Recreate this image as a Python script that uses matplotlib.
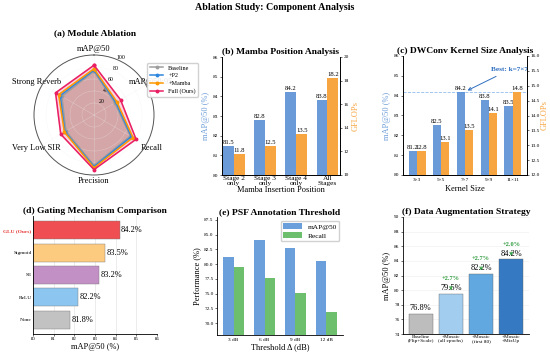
import numpy as np
import matplotlib
matplotlib.use('Agg')
import matplotlib.pyplot as plt

plt.rcParams['font.family'] = ['Liberation Serif', 'DejaVu Serif']
plt.rcParams['axes.linewidth'] = 0.6

W, H = 550, 353

# (a) radar data
radar_labels = ['mAP@50', 'mAP@50:95', 'Recall', 'Precision', 'Very Low SIR', 'Strong Reverb']
radar_names = ['Baseline', '+P2', '+Mamba', 'Full (Ours)']
radar_baseline = [73, 40, 70, 84, 54, 62]
radar_p2 = [75, 42, 72, 86, 56, 65]
radar_mamba = [77, 44, 75, 88, 57, 68]
radar_full = [83, 51, 81, 91, 64, 74]
radar_colors = ['#9E9E9E', '#2E86DE', '#FF9800', '#E91E63']

# (b) mamba position
pos_labels = ['Stage 2\nonly', 'Stage 3\nonly', 'Stage 4\nonly', 'All\nStages']
pos_map = [81.5, 82.8, 84.2, 83.8]
pos_gflops = [11.8, 12.5, 13.5, 18.2]

# (c) kernel size
kernel_labels = ['3×3', '5×5', '7×7', '9×9', '11×11']
kernel_map = [81.2, 82.5, 84.2, 83.8, 83.5]
kernel_gflops = [12.8, 13.1, 13.5, 14.1, 14.8]

# (d) gating
gate_labels = ['GLU (Ours)', 'Sigmoid', 'SE', 'ReLU', 'None']
gate_vals = [84.2, 83.5, 83.2, 82.2, 81.8]
gate_colors = ['#EF4F52', '#FDCB80', '#C390C6', '#8CC6F0', '#C2C2C2']

# (e) PSF threshold
thr_labels = ['3 dB', '6 dB', '9 dB', '12 dB']
thr_map = [81.2, 84.1, 82.7, 80.5]
thr_recall = [79.5, 77.7, 75.2, 71.9]

# (f) data augmentation
aug_labels = ['Baseline\n(Flip+Scale)', '+Mosaic\n(all epochs)', '+Mosaic\n(first 80)', '+Mosaic\n+MixUp']
aug_vals = [76.8, 79.5, 82.2, 84.2]
aug_colors = ['#BDBDBD', '#A3CDEE', '#62A8E0', '#3479C2']

BLUE = '#6A9BD8'
ORANGE = '#F7A540'
TITLE = 6.8
LABEL = 6.0
TICK = 3.8


def box(l, t, r, b):
    return [l / W, 1 - b / H, (r - l) / W, (b - t) / H]


fig = plt.figure(figsize=(W / 100, H / 100), dpi=100)
fig.text(0.5, 1 - 8 / H, 'Ablation Study: Component Analysis', ha='center', va='center',
         fontsize=7.2, fontweight='bold')

# ---------- (a) radar ----------
ax = fig.add_axes(box(34, 55, 154, 175), polar=True)
angles = np.linspace(0, 2 * np.pi, len(radar_labels), endpoint=False)
ang = np.concatenate([angles, angles[:1]])
ax.set_theta_offset(np.pi / 2)
ax.set_theta_direction(-1)
for vals, name, c in zip([radar_baseline, radar_p2, radar_mamba, radar_full], radar_names, radar_colors):
    v = np.concatenate([vals, vals[:1]])
    ax.plot(ang, v, color=c, lw=1.1, marker='o', ms=1.8, label=name)
    ax.fill(ang, v, color=c, alpha=0.2)
ax.set_ylim(0, 100)
ax.set_yticks([20, 40, 60, 80, 100])
ax.set_yticklabels(['20', '40', '60', '80', '100'], fontsize=4.2)
ax.set_xticks(angles)
ax.set_xticklabels(radar_labels, fontsize=6)
ax.tick_params(axis='x', pad=-6)
ax.grid(color='#eeeeee', lw=0.4, alpha=0.4)
ax.spines['polar'].set_color('#555555')
ax.spines['polar'].set_linewidth(0.7)
ax.legend(loc='upper left', bbox_to_anchor=(0.92, 0.96), fontsize=4.4, handlelength=2.2,
          borderpad=0.4, labelspacing=0.4, framealpha=0.9, edgecolor='#cccccc', fancybox=True)
fig.text(95 / W, 1 - 33 / H, '(a) Module Ablation', ha='center', va='center', fontsize=TITLE,
         fontweight='bold')

# ---------- (b) mamba position ----------
ax = fig.add_axes(box(222, 57, 340, 175))
x = np.arange(len(pos_labels))
w = 0.35
ax.bar(x - w / 2, pos_map, w, color=BLUE)
ax.set_ylim(80, 86)
ax.set_xlim(-0.37, 3.4)
ax2 = ax.twinx()
ax2.bar(x + w / 2, pos_gflops, w, color=ORANGE)
ax2.set_ylim(10, 20)
for xi, v in zip(x, pos_map):
    ax.text(xi - w / 2, v + 0.05, f'{v}', ha='center', va='bottom', fontsize=4.8)
for xi, v in zip(x, pos_gflops):
    ax2.text(xi + w / 2, v + 0.08, f'{v}', ha='center', va='bottom', fontsize=4.8)
ax.set_xticks(x)
ax.set_xticklabels(pos_labels, fontsize=5.3, linespacing=0.9)
ax.tick_params(axis='x', length=0, pad=1)
ax.tick_params(axis='y', labelsize=TICK, length=1.5, pad=1, width=0.4)
ax2.tick_params(axis='y', labelsize=TICK, length=1.5, pad=1, width=0.4)
ax.set_ylabel('mAP@50 (%)', color=BLUE, fontsize=LABEL, labelpad=2)
ax2.set_ylabel('GFLOPs', color=ORANGE, fontsize=LABEL, labelpad=2)
ax.set_xlabel('Mamba Insertion Position', fontsize=LABEL, labelpad=0)
ax.set_title('(b) Mamba Position Analysis', fontsize=TITLE, fontweight='bold', pad=2)
for a in (ax, ax2):
    a.spines['top'].set_visible(False)

# ---------- (c) kernel size ----------
ax = fig.add_axes(box(403, 56, 527, 175))
x = np.arange(len(kernel_labels))
ax.bar(x - w / 2, kernel_map, w, color=BLUE)
ax.set_ylim(80, 86)
ax2 = ax.twinx()
ax2.bar(x + w / 2, kernel_gflops, w, color=ORANGE)
ax2.set_ylim(12, 16)
ax2.set_yticks(np.arange(12, 16.01, 0.5))
ax.set_xlim(-0.59, 4.59)
for xi, v in zip(x, kernel_map):
    ax.text(xi - w / 2, v + 0.05, f'{v}', ha='center', va='bottom', fontsize=4.8)
for xi, v in zip(x, kernel_gflops):
    ax2.text(xi + w / 2, v + 0.03, f'{v}', ha='center', va='bottom', fontsize=4.8)
ax.axhline(kernel_map[2], color='#4A90E2', ls='--', lw=0.6, alpha=0.6)
ax.annotate('Best: k=7×7', xy=(2, kernel_map[2]), xytext=(3.85, 85.3), ha='center', va='center',
            fontsize=5.2, fontweight='bold', color='#2F6FC0',
            arrowprops=dict(arrowstyle='->', color='#2F6FC0', lw=0.7))
ax.set_xticks(x)
ax.set_xticklabels(kernel_labels, fontsize=TICK)
ax.tick_params(axis='x', length=0, pad=2)
ax.tick_params(axis='y', labelsize=TICK, length=1.5, pad=1, width=0.4)
ax2.tick_params(axis='y', labelsize=TICK, length=1.5, pad=1, width=0.4)
ax.set_ylabel('mAP@50 (%)', color=BLUE, fontsize=LABEL, labelpad=2)
ax2.set_ylabel('GFLOPs', color=ORANGE, fontsize=LABEL, labelpad=1)
ax.set_xlabel('Kernel Size', fontsize=LABEL, labelpad=2)
ax.set_title('(c) DWConv Kernel Size Analysis', fontsize=TITLE, fontweight='bold', pad=2)
for a in (ax, ax2):
    a.spines['top'].set_visible(False)

# ---------- (d) gating ----------
ax = fig.add_axes(box(33, 216, 157, 334))
y = np.arange(len(gate_labels))[::-1]
ax.barh(y, gate_vals, 0.8, color=gate_colors, edgecolor='#777777', linewidth=0.3)
for yi, v in zip(y, gate_vals):
    ax.text(v + 0.05, yi, f'{v}%', va='center', ha='left', fontsize=6)
ax.set_xlim(80, 86)
ax.set_yticks(y)
ax.set_yticklabels(gate_labels, fontsize=3.9)
lab = ax.get_yticklabels()[0]
lab.set_color('#E53935')
lab.set_fontweight('bold')
ax.tick_params(axis='x', labelsize=3.5, length=1.5, pad=1, width=0.4)
ax.tick_params(axis='y', length=0, pad=1)
ax.set_xlabel('mAP@50 (%)', fontsize=LABEL, labelpad=1)
ax.grid(axis='x', color='#dddddd', lw=0.4)
ax.set_axisbelow(True)
ax.spines['top'].set_visible(False)
ax.spines['right'].set_visible(False)
ax.set_title('(d) Gating Mechanism Comparison', fontsize=TITLE, fontweight='bold', pad=2)

# ---------- (e) PSF threshold ----------
ax = fig.add_axes(box(217, 217, 343, 335))
x = np.arange(len(thr_labels))
ax.bar(x - w / 2, thr_map, w, color='#6A9FDC', label='mAP@50')
ax.bar(x + w / 2, thr_recall, w, color='#6DBE6D', label='Recall')
ax.set_ylim(68, 88)
ax.set_yticks(np.arange(70, 88.1, 2.5))
ax.set_xticks(x)
ax.set_xticklabels(thr_labels, fontsize=TICK)
ax.tick_params(axis='x', length=0, pad=2)
ax.tick_params(axis='y', labelsize=TICK, length=1.5, pad=1, width=0.4)
ax.set_xlabel('Threshold Δ (dB)', fontsize=LABEL, labelpad=1)
ax.set_ylabel('Performance (%)', fontsize=LABEL, labelpad=2)
ax.legend(loc='upper right', fontsize=5.3, handlelength=2.5, handleheight=0.9, borderpad=0.35,
          labelspacing=0.3, framealpha=0.9, edgecolor='#cccccc')
ax.spines['top'].set_visible(False)
ax.spines['right'].set_visible(False)
ax.set_title('(e) PSF Annotation Threshold', fontsize=TITLE, fontweight='bold', pad=2)

# ---------- (f) data augmentation ----------
ax = fig.add_axes(box(403, 217, 529, 334))
x = np.arange(len(aug_labels))
ax.bar(x, aug_vals, 0.8, color=aug_colors, edgecolor='#666666', linewidth=0.3)
for xi, v in zip(x, aug_vals):
    ax.text(xi, v + 0.25, f'{v}%', ha='center', va='bottom', fontsize=6)
for i in range(1, len(aug_vals)):
    d = aug_vals[i] - aug_vals[i - 1]
    ax.annotate(f'+{d:.1f}%', xy=(i, aug_vals[i] + 0.1), xytext=(i, aug_vals[i] + 2.1),
                ha='center', va='center', fontsize=4.6, fontweight='bold', color='#2E9B3E',
                arrowprops=dict(arrowstyle='->', color='#2E9B3E', lw=0.7))
ax.set_ylim(74, 90)
ax.set_yticks(np.arange(74, 90.1, 2))
ax.set_xticks(x)
ax.set_xticklabels(aug_labels, fontsize=TICK, linespacing=0.95)
ax.tick_params(axis='x', length=0, pad=1)
ax.tick_params(axis='y', labelsize=TICK, length=1.5, pad=1, width=0.4)
ax.set_ylabel('mAP@50 (%)', fontsize=LABEL, labelpad=2)
ax.grid(axis='y', color='#eeeeee', lw=0.4)
ax.set_axisbelow(True)
ax.spines['top'].set_visible(False)
ax.spines['right'].set_visible(False)
ax.set_title('(f) Data Augmentation Strategy', fontsize=TITLE, fontweight='bold', pad=2)

fig.savefig('out.png', dpi=100)
